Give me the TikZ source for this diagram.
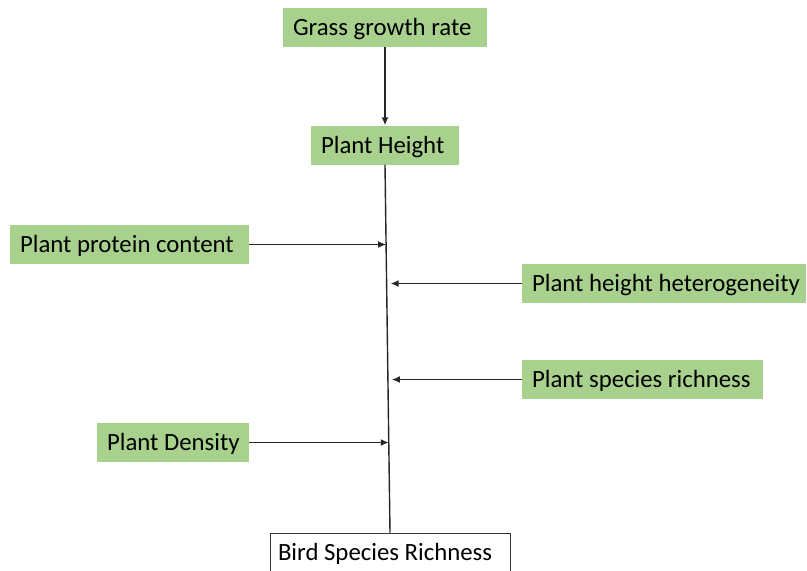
\documentclass[tikz,border=0pt]{standalone}
\usepackage{fontspec}
\setmainfont{Carlito}
\usetikzlibrary{arrows.meta,calc}
\definecolor{boxgreen}{HTML}{A9D18E}
\newcommand{\boxtext}[3]{\makebox[#1][l]{\hspace*{#2}#3}}
\begin{document}
\begin{tikzpicture}[x=1pt,y=-1pt,
  base/.style={minimum height=39pt,inner xsep=0pt,inner ysep=0pt,text height=23pt,text depth=7pt,font=\fontsize{24.8}{28}\selectfont},
  gbox/.style={base,fill=boxgreen,draw=none},
  wbox/.style={base,fill=white,draw=black!80,line width=0.9pt},
  conn/.style={line width=1.4pt,draw=black!85},
  arr/.style={conn,-{Latex[length=8pt,width=7pt]}}]
\useasboundingbox (0,0) rectangle (807,571);
\clip (0,0) rectangle (807,571);
\node[gbox] (ggr) at (385,27.5) {\boxtext{204pt}{10pt}{Grass growth rate}};
\node[gbox] (ph) at (385,145) {\boxtext{148pt}{10pt}{Plant Height}};
\node[gbox] (ppc) at (129.5,244.5) {\boxtext{239pt}{10pt}{Plant protein content}};
\node[gbox] (phh) at (664,283.5) {\boxtext{284pt}{10pt}{Plant height heterogeneity}};
\node[gbox] (psr) at (642.5,379.5) {\boxtext{241pt}{10pt}{Plant species richness}};
\node[gbox] (pd) at (173,442.5) {\boxtext{152pt}{10pt}{Plant Density}};
\node[wbox] (bsr) at (390,552.5) {\boxtext{240pt}{8pt}{Bird Species Richness}};
\draw[arr] (ggr.south) -- (ph.north);
\draw[conn] (ph.south) -- (bsr.north);
\coordinate (c1) at ($(ph.south)!0.22!(bsr.north)$);
\coordinate (c2) at ($(ph.south)!0.325!(bsr.north)+(4,0)$);
\coordinate (c3) at ($(ph.south)!0.585!(bsr.north)+(4,0)$);
\coordinate (c4) at ($(ph.south)!0.753!(bsr.north)$);
\draw[arr] (ppc.east) -- (ppc.east -| c1);
\draw[arr] (phh.west) -- (phh.west -| c2);
\draw[arr] (psr.west) -- (psr.west -| c3);
\draw[arr] (pd.east) -- (pd.east -| c4);
\end{tikzpicture}
\end{document}
